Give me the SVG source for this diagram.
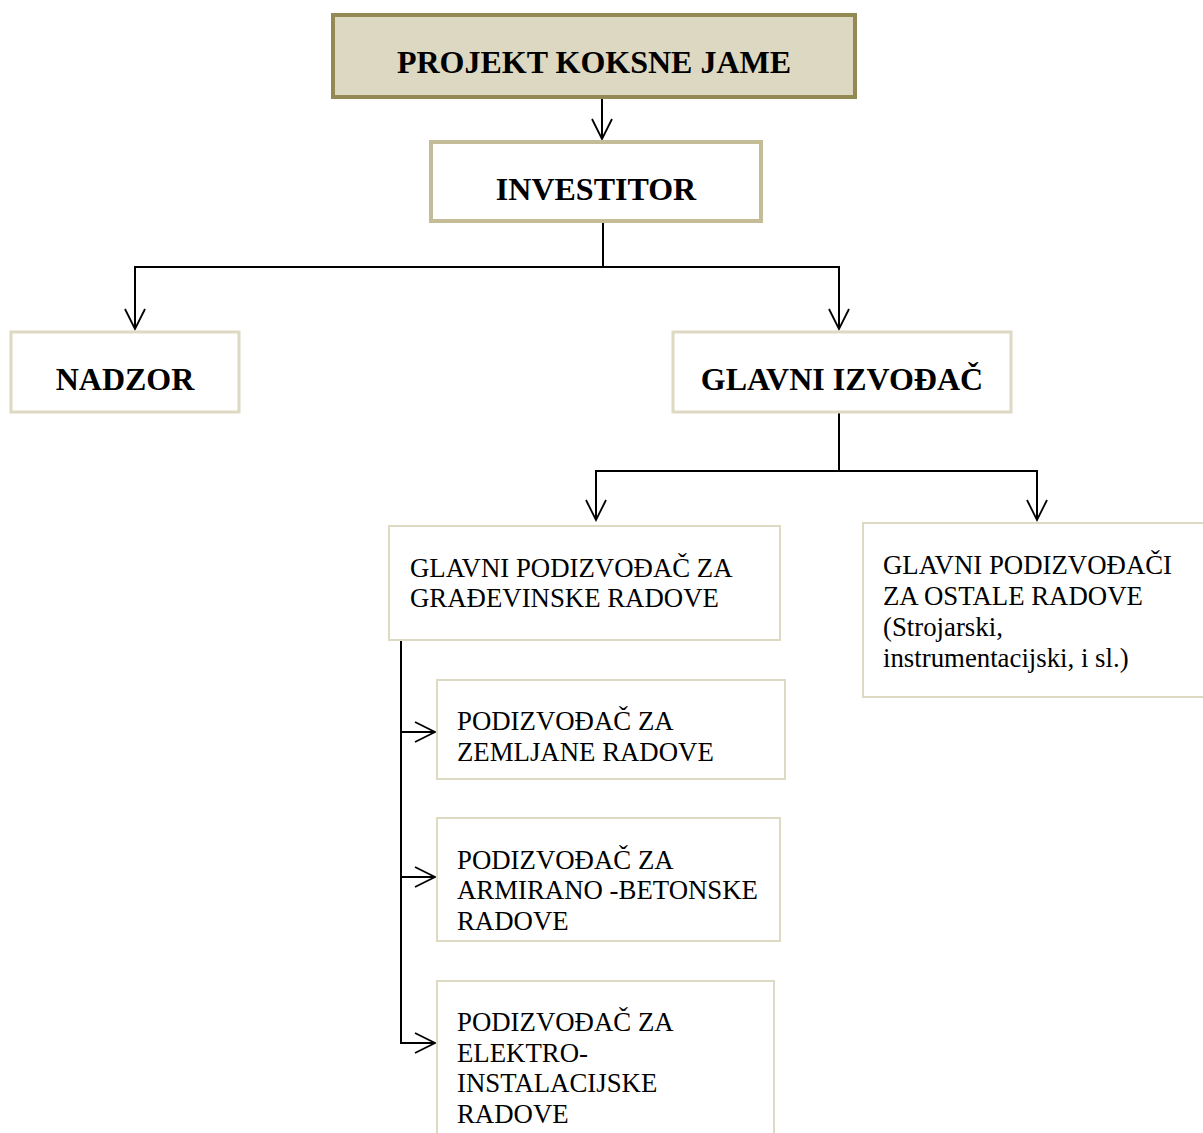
<svg xmlns="http://www.w3.org/2000/svg" width="1203" height="1133" viewBox="0 0 1203 1133">
<style>
.t{font-family:"Liberation Serif","Times New Roman",serif;fill:#000}
.b{font-weight:bold;font-size:32px}
.n{font-size:26.8px}
.box{fill:#fff;stroke:#ddd9c3;stroke-width:3}
.c{fill:none;stroke:#000;stroke-width:2}
</style>
<defs>
<marker id="ar" markerUnits="userSpaceOnUse" markerWidth="26" markerHeight="26" viewBox="-23 -13 26 26" refX="0" refY="0" orient="auto">
<path d="M-20,-10 L0,0 L-20,10" fill="none" stroke="#000" stroke-width="1.8"/>
</marker>
</defs>
<rect width="1203" height="1133" fill="#fff"/>
<g id="connectors">
<path class="c" d="M602,98 V139" marker-end="url(#ar)"/>
<path class="c" d="M603,222 V267 H135 V329" marker-end="url(#ar)"/>
<path class="c" d="M603,267 H839 V329" marker-end="url(#ar)"/>
<path class="c" d="M839,413 V471 H596 V520" marker-end="url(#ar)"/>
<path class="c" d="M839,471 H1037 V520" marker-end="url(#ar)"/>
<path class="c" d="M401,641 V1043 H435" marker-end="url(#ar)"/>
<path class="c" d="M401,732 H435" marker-end="url(#ar)"/>
<path class="c" d="M401,877 H435" marker-end="url(#ar)"/>
</g>
<g id="projekt">
<rect x="333" y="15" width="522" height="82" fill="#ddd8c2" stroke="#938953" stroke-width="4"/>
<text class="t b" x="594" y="73" text-anchor="middle">PROJEKT KOKSNE JAME</text>
</g>
<g id="investitor">
<rect x="431" y="142" width="330" height="79" fill="#fff" stroke="#c4bc96" stroke-width="4"/>
<text class="t b" x="596" y="200" text-anchor="middle">INVESTITOR</text>
</g>
<g id="nadzor">
<rect class="box" x="11" y="332" width="228" height="80"/>
<text class="t b" x="125" y="390" text-anchor="middle">NADZOR</text>
</g>
<g id="glavni-izvodjac">
<rect class="box" x="673" y="332" width="338" height="80"/>
<text class="t b" x="842" y="390" text-anchor="middle">GLAVNI IZVOĐAČ</text>
</g>
<g id="gradjevinske">
<rect class="box" x="389" y="526" width="391" height="114" style="stroke-width:2"/>
<text class="t n" x="410" y="577">GLAVNI PODIZVOĐAČ ZA</text>
<text class="t n" x="410" y="607">GRAĐEVINSKE RADOVE</text>
</g>
<g id="ostale">
<rect class="box" x="863" y="523" width="345" height="174" style="stroke-width:2"/>
<text class="t n" x="883" y="574">GLAVNI PODIZVOĐAČI</text>
<text class="t n" x="883" y="605">ZA OSTALE RADOVE</text>
<text class="t n" x="883" y="636">(Strojarski,</text>
<text class="t n" x="883" y="667">instrumentacijski, i sl.)</text>
</g>
<g id="zemljane">
<rect class="box" x="437" y="680" width="348" height="99" style="stroke-width:2"/>
<text class="t n" x="457" y="730">PODIZVOĐAČ ZA</text>
<text class="t n" x="457" y="761">ZEMLJANE RADOVE</text>
</g>
<g id="armirano">
<rect class="box" x="437" y="818" width="343" height="123" style="stroke-width:2"/>
<text class="t n" x="457" y="869">PODIZVOĐAČ ZA</text>
<text class="t n" x="457" y="899">ARMIRANO -BETONSKE</text>
<text class="t n" x="457" y="930">RADOVE</text>
</g>
<g id="elektro">
<rect class="box" x="437" y="981" width="337" height="170" style="stroke-width:2"/>
<text class="t n" x="457" y="1031">PODIZVOĐAČ ZA</text>
<text class="t n" x="457" y="1062">ELEKTRO-</text>
<text class="t n" x="457" y="1092">INSTALACIJSKE</text>
<text class="t n" x="457" y="1123">RADOVE</text>
</g>
</svg>
